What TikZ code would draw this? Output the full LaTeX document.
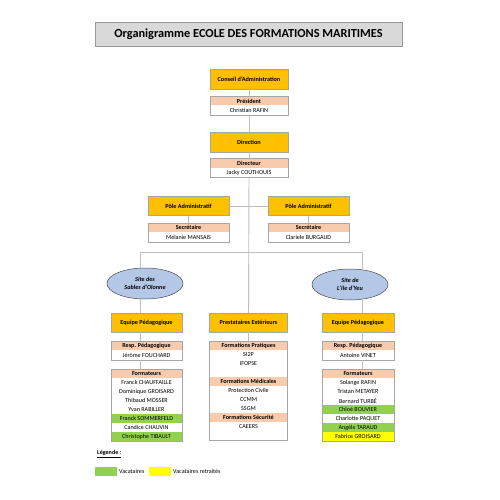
\documentclass[tikz,border=0pt]{standalone}
\usepackage{fontspec}
\setmainfont{Carlito}
\usetikzlibrary{shapes.geometric}

\definecolor{gold}{HTML}{FFC000}
\definecolor{peach}{HTML}{F8CBAD}
\definecolor{titlegray}{HTML}{D9D9D9}
\definecolor{siteblue}{HTML}{B4C7E7}
\definecolor{vacgreen}{HTML}{92D050}
\definecolor{vacyellow}{HTML}{FFFF00}
\definecolor{linegray}{HTML}{BFBFBF}
\definecolor{framegray}{HTML}{A6A6A6}

\begin{document}
\begin{tikzpicture}[x=1pt,y=-1pt,
  titlebox/.style={draw=gray!80,fill=titlegray,line width=0.8pt,minimum width=307pt,minimum height=24pt,inner sep=0pt,font=\fontsize{12.3}{13}\selectfont\bfseries},
  orgbox/.style={draw=framegray,fill=gold,line width=0.5pt,minimum height=20pt,inner sep=0pt,font=\fontsize{6.2}{7}\selectfont\bfseries},
  hdrow/.style={fill=peach,minimum height=9pt,inner sep=0pt,font=\fontsize{6.1}{7}\selectfont\bfseries},
  row/.style={minimum height=9pt,inner sep=0pt,font=\fontsize{6.1}{7}\selectfont},
  site/.style={ellipse,draw=black!70,fill=siteblue,line width=0.5pt,inner sep=0pt,minimum width=76pt,minimum height=31pt,align=center,font=\fontsize{6.2}{7.6}\selectfont\bfseries\itshape},
  link/.style={draw=linegray,line width=0.9pt},
  listframe/.style={draw=framegray,line width=0.5pt},
  legtext/.style={anchor=west,inner sep=0pt,font=\fontsize{6.1}{7}\selectfont}]
  \useasboundingbox (0,0) rectangle (500,500);

  % title
  \node[titlebox] (title) at (248.5,34) {Organigramme ECOLE DES FORMATIONS MARITIMES};

  % direction
  \node[orgbox,minimum width=78pt] (conseil) at (249,79) {Conseil d'Administration};
  \node[hdrow,minimum width=78pt] (presH) at (249,101) {Président};
  \node[row,minimum width=78pt,minimum height=10pt] (presN) at (249,110.5) {Christian RAFIN};
  \draw[listframe] (presH.north west) rectangle (presN.south east);
  \node[orgbox,minimum width=78pt] (direction) at (249,142) {Direction};
  \node[hdrow,minimum width=78pt] (dirH) at (249,163) {Directeur};
  \node[row,minimum width=78pt,minimum height=10pt] (dirN) at (249,172.5) {Jacky COUTHOUIS};
  \draw[listframe] (dirH.north west) rectangle (dirN.south east);

  % poles administratifs
  \node[orgbox,minimum width=81pt,minimum height=19pt] (poleL) at (188.5,206) {Pôle Administratif};
  \node[orgbox,minimum width=81pt,minimum height=19pt] (poleR) at (308.5,206) {Pôle Administratif};
  \node[hdrow,minimum width=81pt] (secLH) at (188.5,227.5) {Secrétaire};
  \node[row,minimum width=81pt,minimum height=10pt] (secLN) at (188.5,237) {Mélanie MANSAIS};
  \node[hdrow,minimum width=81pt] (secRH) at (308.5,227.5) {Secrétaire};
  \node[row,minimum width=81pt,minimum height=10pt] (secRN) at (308.5,237) {Clariele BURGAUD};
  \draw[listframe] (secLH.north west) rectangle (secLN.south east);
  \draw[listframe] (secRH.north west) rectangle (secRN.south east);

  % sites
  \coordinate (brL) at (140,252);
  \coordinate (brR) at (362,252);
  \node[site] (siteL) at (145,283.5) {Site des\\Sables d'Olonne};
  \node[site] (siteR) at (350,284.5) {Site de\\L'île d'Yeu};

  \node[orgbox,minimum width=71pt,minimum height=19pt] (equipeL) at (146.5,322.5) {Equipe Pédagogique};
  \node[orgbox,minimum width=78pt,minimum height=19pt] (prest) at (248.5,322.5) {Prestataires Extérieurs};
  \node[orgbox,minimum width=72pt,minimum height=19pt] (equipeR) at (358,322.5) {Equipe Pédagogique};

  % Sables d'Olonne
  \node[hdrow,minimum width=71pt] (respLH) at (146.5,345.5) {Resp. Pédagogique};
  \node[row,minimum width=71pt,minimum height=10pt] (respLN) at (146.5,355) {Jérôme FOUCHARD};
  \draw[listframe] (respLH.north west) rectangle (respLN.south east);
  \node[hdrow,minimum width=71pt] (formLH) at (146.5,373.5) {Formateurs};
  \node[row,minimum width=71pt] (formL1) at (146.5,382.5) {Franck CHAUFFAILLE};
  \node[row,minimum width=71pt] (formL2) at (146.5,391.5) {Dominique GROISARD};
  \node[row,minimum width=71pt] (formL3) at (146.5,400.5) {Thibaud MOSSER};
  \node[row,minimum width=71pt] (formL4) at (146.5,409.5) {Yvan RABILLER};
  \node[row,minimum width=71pt,fill=vacgreen] (formL5) at (146.5,418.5) {Franck SOMMERFELD};
  \node[row,minimum width=71pt] (formL6) at (146.5,427.5) {Candice CHAUVIN};
  \node[row,minimum width=71pt,fill=vacgreen] (formL7) at (146.5,436.5) {Christophe TIBAULT};
  \draw[listframe] (formLH.north west) rectangle (formL7.south east);

  % prestataires
  \node[hdrow,minimum width=78pt] (pratH) at (248.5,345.5) {Formations Pratiques};
  \node[row,minimum width=78pt] (prat1) at (248.5,354.5) {SI2P};
  \node[row,minimum width=78pt] (prat2) at (248.5,363.5) {IFOPSE};
  \node[hdrow,minimum width=78pt] (medH) at (248.5,381.5) {Formations Médicales};
  \node[row,minimum width=78pt] (med1) at (248.5,390.5) {Protection Civile};
  \node[row,minimum width=78pt] (med2) at (248.5,399.5) {CCMM};
  \node[row,minimum width=78pt] (med3) at (248.5,408.5) {SSGM};
  \node[hdrow,minimum width=78pt] (secuH) at (248.5,417.5) {Formations Sécurité};
  \node[row,minimum width=78pt] (secu1) at (248.5,426.5) {CAEERS};
  \coordinate (prestEnd) at (287.5,440);
  \draw[listframe] (pratH.north west) rectangle (prestEnd);

  % Ile d'Yeu
  \node[hdrow,minimum width=72pt] (respRH) at (358,345.5) {Resp. Pédagogique};
  \node[row,minimum width=72pt,minimum height=10pt] (respRN) at (358,355) {Antoine VINET};
  \draw[listframe] (respRH.north west) rectangle (respRN.south east);
  \node[hdrow,minimum width=72pt] (formRH) at (358,373.5) {Formateurs};
  \node[row,minimum width=72pt] (formR1) at (358,382.5) {Solange RAFIN};
  \node[row,minimum width=72pt] (formR2) at (358,391.5) {Tristan METAYER};
  \node[row,minimum width=72pt] (formR3) at (358,400.5) {Bernard TURBÉ};
  \node[row,minimum width=72pt,fill=vacgreen] (formR4) at (358,409.5) {Chloé BOUVIER};
  \node[row,minimum width=72pt] (formR5) at (358,418.5) {Charlotte PAQUET};
  \node[row,minimum width=72pt,fill=vacgreen] (formR6) at (358,427.5) {Angèle TARAUD};
  \node[row,minimum width=72pt,fill=vacyellow] (formR7) at (358,436.5) {Fabrice GROISARD};
  \draw[listframe] (formRH.north west) rectangle (formR7.south east);

  % liens
  \draw[link] (conseil) -- (presH);
  \draw[link] (presN) -- (direction);
  \draw[link] (direction) -- (dirH);
  \draw[link] (dirN) -- (prest);
  \draw[link] (poleL) -- (poleR);
  \draw[link] (poleL) -- (secLH);
  \draw[link] (poleR) -- (secRH);
  \draw[link] (brL) -- (brR);
  \draw[link] (brL) -- (brL |- siteL.north);
  \draw[link] (brR) -- (brR |- siteR.north);
  \draw[link] (siteL.south -| brL) -- (equipeL.north -| brL);
  \draw[link] (siteR.south -| brR) -- (equipeR.north -| brR);
  \draw[link] (equipeL.south -| brL) -- (respLH.north -| brL);
  \draw[link] (respLN.south -| brL) -- (formLH.north -| brL);
  \draw[link] (equipeR.south -| brR) -- (respRH.north -| brR);
  \draw[link] (respRN.south -| brR) -- (formRH.north -| brR);
  \draw[link] (prest) -- (pratH);

  % legende
  \node[legtext,font=\fontsize{6.1}{7}\selectfont\bfseries] (legende) at (97,454) {\underline{Légende :}};
  \node[fill=vacgreen,minimum width=22pt,minimum height=9pt,inner sep=0pt] (legGreen) at (106,471.5) {};
  \node[legtext] (legVac) at (119,471.5) {Vacataires};
  \node[fill=vacyellow,minimum width=22pt,minimum height=9pt,inner sep=0pt] (legYellow) at (160,471.5) {};
  \node[legtext] (legRet) at (173,471.5) {Vacataires retraités};
\end{tikzpicture}
\end{document}
